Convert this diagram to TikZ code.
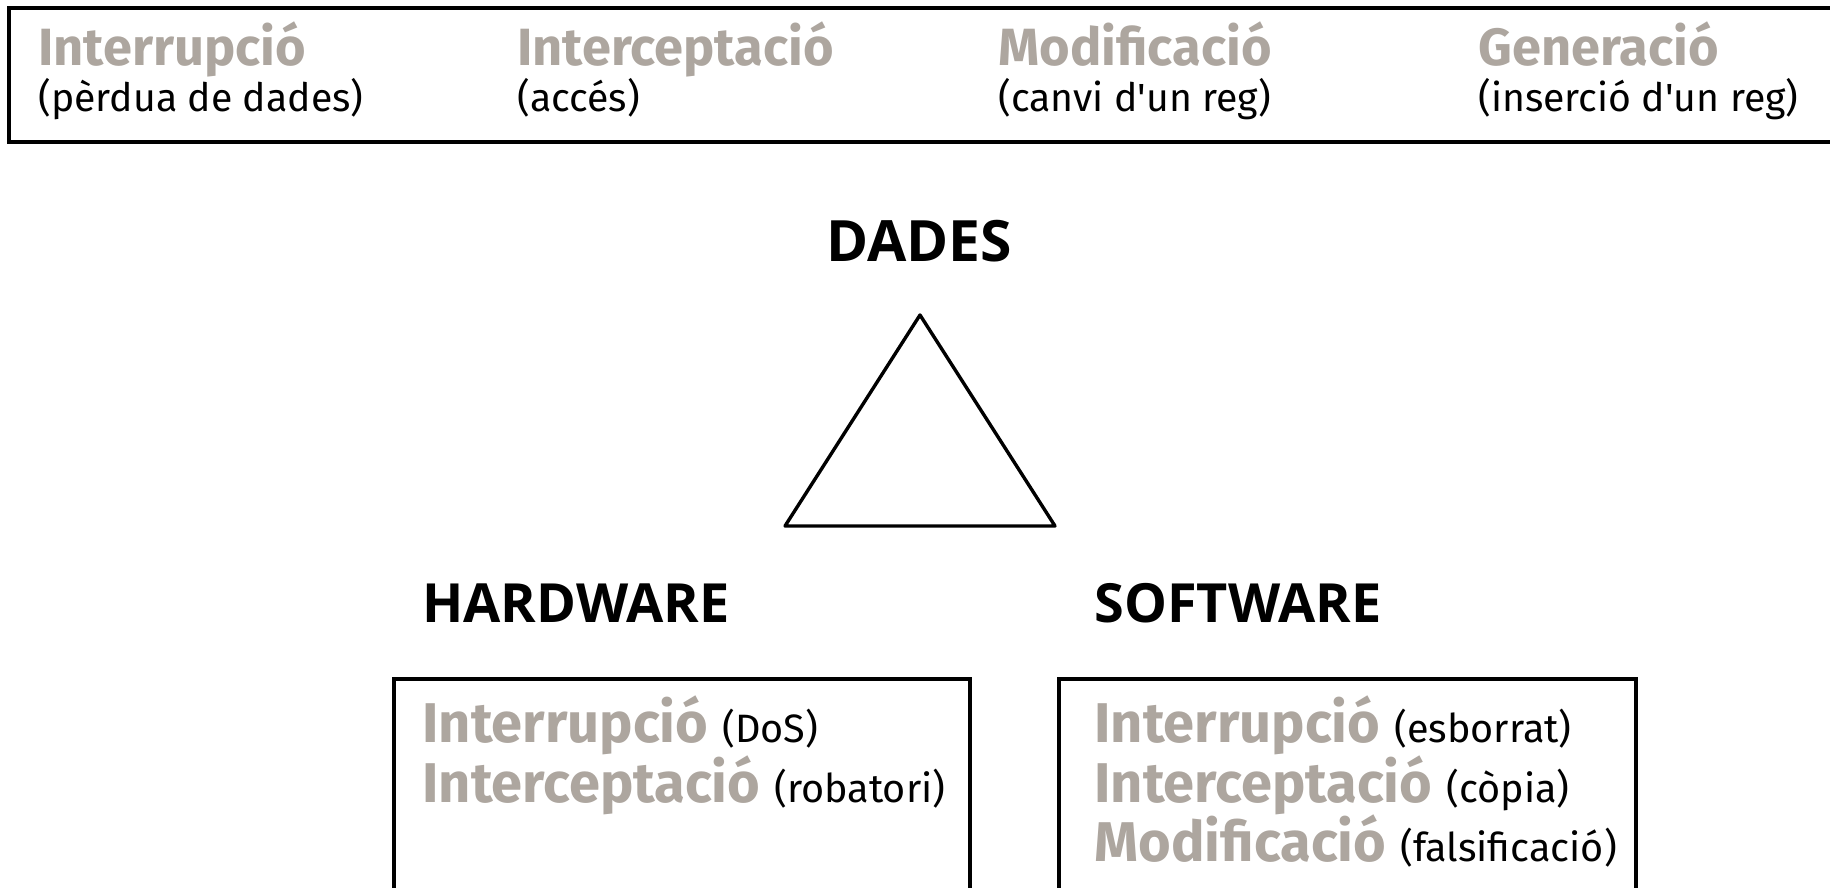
\documentclass[tikz,border=0pt]{standalone}
\usepackage{fontspec}
\setmainfont{Fira Sans}
\newfontfamily\headfont{Open Sans}
\usetikzlibrary{positioning}

\definecolor{grisatac}{RGB}{173,166,159}

% lletres
\newcommand{\titolfont}{\bfseries\fontsize{26.2}{30}\selectfont}
\newcommand{\subfont}{\fontsize{19.6}{24}\selectfont}
\newcommand{\capfont}{\headfont\bfseries\fontsize{28.5}{32}\selectfont}
\newcommand{\atacfont}{\bfseries\fontsize{28}{32}\selectfont\color{grisatac}}
\newcommand{\exfont}{\fontsize{19.8}{26}\selectfont}

\tikzset{
	titol/.style={anchor=base west, inner sep=0pt, font=\titolfont, text=grisatac},
	subtitol/.style={anchor=base west, inner sep=0pt, font=\subfont},
	capcalera/.style={anchor=base, inner sep=0pt, font=\capfont},
	linia/.style={anchor=base west, inner sep=0pt},
	caixa/.style={draw, line width=1.6pt}
}

\begin{document}
\begin{tikzpicture}[x=0.5pt,y=-0.5pt]
	\clip (0,0) rectangle (1830,888);

	% caixa de dalt
	\draw[caixa] (9,8) rectangle (1850,142);
	\node[titol] (t1) at (38,66) {Interrupció};
	\node[titol] (t2) at (517,66) {Interceptació};
	\node[titol] (t3) at (998,66) {Modificació};
	\node[titol] (t4) at (1478,66) {Generació};
	\node[subtitol] (s1) at ([yshift=-23pt]t1.base west) {(pèrdua de dades)};
	\node[subtitol] (s2) at ([yshift=-23pt]t2.base west) {(accés)};
	\node[subtitol] (s3) at ([yshift=-23pt]t3.base west) {(canvi d\textquotesingle un reg)};
	\node[subtitol] (s4) at ([yshift=-23pt]t4.base west) {(inserció d\textquotesingle un reg)};

	% triangle
	\node[capcalera] (dades) at (919,261) {DADES};
	\coordinate (dalt) at (920,315);
	\coordinate (esq) at (785,526);
	\coordinate (dre) at (1055,526);
	\draw[line width=1.7pt, line join=round] (dalt) -- (esq) -- (dre) -- cycle;

	\node[capcalera, anchor=base west, font=\headfont\bfseries\fontsize{27}{32}\selectfont] (hw) at (422,622) {HARDWARE};
	\node[capcalera, anchor=base west, font=\headfont\bfseries\fontsize{27}{32}\selectfont] (sw) at (1094,622) {SOFTWARE};

	% caixes de baix
	\draw[caixa] (394,679) rectangle (970,900);
	\draw[caixa] (1059,679) rectangle (1636,900);

	\node[linia] (hw1) at (422,742) {{\atacfont Interrupció}\hspace{7pt}{\exfont (DoS)}};
	\node[linia] (hw2) at (422,802) {{\atacfont Interceptació}\hspace{7pt}{\exfont (robatori)}};

	\node[linia] (sw1) at (1094,742) {{\atacfont Interrupció}\hspace{7pt}{\exfont (esborrat)}};
	\node[linia] (sw2) at (1094,802) {{\atacfont Interceptació}\hspace{7pt}{\exfont (còpia)}};
	\node[linia] (sw3) at (1094,861) {{\atacfont Modificació}\hspace{7pt}{\exfont (falsificació)}};
\end{tikzpicture}
\end{document}
